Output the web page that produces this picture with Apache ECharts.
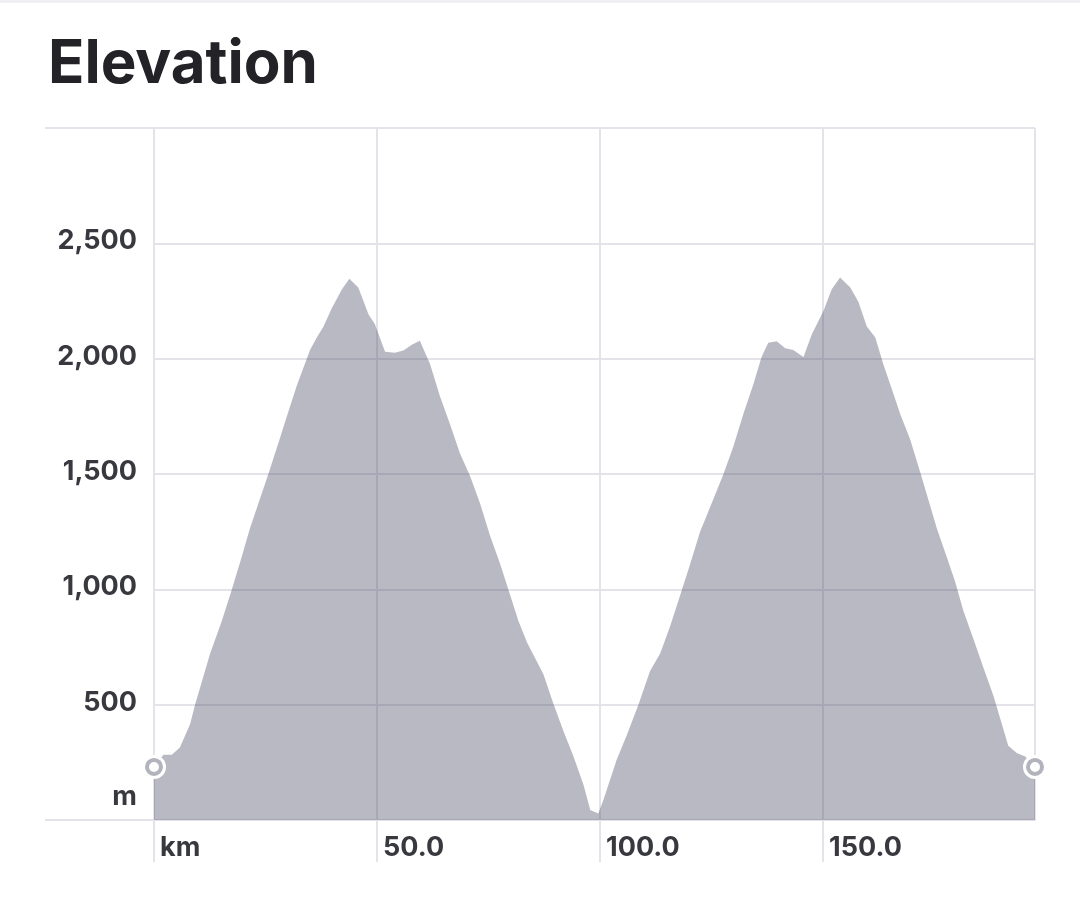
<!DOCTYPE html>
<html>
<head>
<meta charset="utf-8">
<script src="https://cdn.jsdelivr.net/npm/echarts@6/dist/echarts.min.js"></script>
<style>
  html, body { margin: 0; padding: 0; background: #ffffff; }
  #chart { width: 1080px; height: 910px; }
</style>
</head>
<body>
<div id="chart"></div>
<script>
// Distance along route (km)
const distanceKm = [
  0, 2.1, 4.0, 5.8, 8.1, 9.2, 12.6, 15.2, 17.4, 19.7, 21.5, 23.4, 25.6, 27.9, 29.7, 32.0,
  35.0, 36.5, 38.0, 39.8, 42.1, 43.8, 45.8, 48.1, 49.5, 51.8, 54.0, 55.9, 57.8, 59.6,
  61.9, 64.1, 66.4, 68.6, 70.9, 73.1, 75.3, 77.6, 79.8, 81.7, 83.6, 87.3, 89.5, 91.8,
  94.0, 96.3, 97.8, 99.6, 100.8, 103.7, 106.0, 108.6, 111.2, 113.5, 115.7, 117.9, 120.2,
  122.4, 124.7, 127.6, 129.9, 132.1, 134.4, 136.2, 137.7, 139.6, 141.5, 143.3, 145.6,
  147.5, 150.1, 151.9, 153.8, 156.1, 157.9, 159.8, 161.7, 163.5, 165.4, 167.3, 169.5,
  171.7, 173.6, 175.5, 177.7, 179.6, 181.4, 183.7, 185.9, 188.2, 190.1, 191.5, 193.4,
  195.3, 197.5
];
// Elevation (m)
const elevationM = [
  230, 283, 283, 314, 416, 500, 723, 863, 996, 1143, 1264, 1372, 1498, 1636, 1745, 1883,
  2039, 2092, 2139, 2216, 2300, 2347, 2308, 2192, 2150, 2030, 2026, 2035, 2060, 2078,
  1976, 1837, 1714, 1589, 1489, 1372, 1234, 1110, 978, 863, 771, 632, 506, 385,
  277, 152, 43, 28, 90, 260, 368, 500, 646, 723, 840, 971, 1110,
  1249, 1358, 1497, 1620, 1759, 1891, 2007, 2069, 2076, 2045, 2038, 2007,
  2107, 2208, 2300, 2352, 2308, 2247, 2139, 2092, 1976, 1868, 1759, 1651,
  1512, 1388, 1264, 1141, 1033, 909, 785, 662, 538, 414, 322, 290,
  275, 230
];
// Axis settings
const xTickStep = 50;
const yTicks = [0, 500, 1000, 1500, 2000, 2500, 3000];
const xMax = 197.5;
const yMax = 3000;

const profile = distanceKm.map((d, i) => [d, elevationM[i]]);
const endpoints = [profile[0], profile[profile.length - 1]];

const gridColor = '#e3e3e9';
const labelColor = '#38383f';
const fontFamily = 'Inter, "Noto Sans", sans-serif';

const chart = echarts.init(document.getElementById('chart'), null, { renderer: 'canvas' });
chart.setOption({
  animation: false,
  backgroundColor: '#ffffff',
  title: {
    text: 'Elevation',
    left: 43,
    top: 30,
    textStyle: { fontFamily: fontFamily, fontSize: 60, fontWeight: 700, color: '#222227' }
  },
  graphic: [{
    type: 'rect', left: 0, top: 0, shape: { width: 1080, height: 3 },
    style: { fill: '#f0f0f2' }, silent: true
  }],
  grid: { left: 154, right: 45, top: 128, bottom: 90, containLabel: false },
  xAxis: {
    type: 'value',
    min: 0,
    max: xMax,
    interval: xTickStep,
    axisLine: { show: true, lineStyle: { color: gridColor, width: 2 } },
    axisTick: { show: true, length: 42, lineStyle: { color: gridColor, width: 2 } },
    splitLine: { show: true, lineStyle: { color: gridColor, width: 2 } },
    axisLabel: {
      show: true,
      margin: 28,
      align: 'left',
      verticalAlign: 'middle',
      padding: [0, 0, 0, 6],
      color: labelColor,
      fontFamily: fontFamily,
      fontSize: 27,
      fontWeight: 700,
      showMaxLabel: false,
      formatter: function (v) {
        if (v % xTickStep !== 0) return '';
        return v === 0 ? 'km' : v.toFixed(1);
      }
    }
  },
  yAxis: [{
    type: 'value',
    min: 0,
    max: yMax,
    interval: yTicks[1] - yTicks[0],
    axisLine: { show: false },
    axisTick: { show: false },
    splitLine: { show: true, lineStyle: { color: gridColor, width: 2 } },
    axisLabel: {
      margin: 17,
      color: labelColor,
      fontFamily: fontFamily,
      fontSize: 27,
      fontWeight: 700,
      verticalAlign: 'middle',
      formatter: function (v) {
        if (v === yMax) return '';
        if (v === 0) return '{m|m}';
        return '{n|' + v.toLocaleString('en-US') + '}';
      },
      rich: {
        m: { fontFamily: fontFamily, fontSize: 27, fontWeight: 700, color: labelColor, padding: [0, 0, 46, 0] },
        n: { fontFamily: fontFamily, fontSize: 27, fontWeight: 700, color: labelColor, padding: [0, 0, 4, 0] }
      }
    }
  }, {
    type: 'value',
    position: 'left',
    min: 0,
    max: yMax,
    interval: yMax,
    axisLine: { show: false },
    axisTick: { show: true, length: 109, lineStyle: { color: gridColor, width: 2 } },
    splitLine: { show: false },
    axisLabel: { show: false }
  }],
  series: [{
    type: 'line',
    data: profile,
    showSymbol: false,
    smooth: false,
    lineStyle: { width: 0 },
    areaStyle: { color: 'rgba(60,60,90,0.36)', opacity: 1, origin: 'start' },
    z: 2
  }, {
    type: 'scatter',
    data: endpoints,
    symbol: 'circle',
    symbolSize: 24,
    itemStyle: { color: '#ffffff', opacity: 1 },
    z: 3
  }, {
    type: 'scatter',
    data: endpoints,
    symbol: 'circle',
    symbolSize: 14,
    itemStyle: { color: '#ffffff', borderColor: '#b3b3be', borderWidth: 4, opacity: 1 },
    z: 4
  }]
});
</script>
</body>
</html>
